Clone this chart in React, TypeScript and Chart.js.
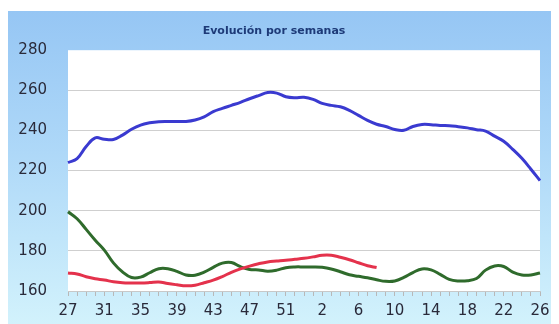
import React, { useEffect, useRef } from "react";
import { Chart, registerables } from "chart.js";

Chart.register(...registerables);

const weeks: string[] = [
  "27","28","29","30","31","32","33","34","35","36","37","38","39","40","41","42","43","44","45","46","47","48","49","50","51","52","53",
  "1","2","3","4","5","6","7","8","9","10","11","12","13","14","15","16","17","18","19","20","21","22","23","24","25","26",
];

const blueSeries: number[] = [
  224, 226, 232, 236.3, 235.6, 235.5, 237.7, 240.6, 242.7, 243.8, 244.4, 244.5, 244.5, 244.5, 245.2, 246.8, 249.4, 251, 252.5, 254,
  255.8, 257.4, 258.9, 258.6, 256.8, 256.3, 256.5, 255.5, 253.5, 252.5, 251.8, 250, 247.5, 245, 243.1, 242, 240.5, 240.1, 242, 243,
  242.9, 242.5, 242.4, 241.9, 241.3, 240.4, 239.7, 237.2, 234.6, 230.6, 226.1, 220.7, 215,
];

const greenSeries: number[] = [
  199.5, 196, 190.7, 185.3, 180.4, 174, 169.5, 166.7, 166.9, 169.1, 171.1, 171.1, 169.8, 168, 167.9, 169.4, 171.8, 173.9, 174.2, 172.1,
  170.7, 170.5, 169.9, 170.4, 171.6, 172, 172, 172, 171.8, 171, 169.6, 168.1, 167.3, 166.6, 165.6, 164.8, 165, 166.8, 169.2, 171,
  170.5, 168.3, 165.8, 165, 165.1, 166.2, 170.4, 172.5, 172.2, 169.4, 168, 168, 169,
];

const redSeries: (number | null)[] = [
  169, 168.5, 167.1, 166.1, 165.5, 164.6, 164.1, 164, 164, 164.2, 164.5, 163.7, 163.1, 162.6, 162.9, 164.1, 165.4, 167.2, 169.3, 171,
  172.4, 173.6, 174.5, 174.9, 175.3, 175.8, 176.3, 177, 177.8, 177.8, 176.8, 175.6, 174.1, 172.6, 171.7,
  null, null, null, null, null, null, null, null, null, null, null, null, null, null, null, null, null, null,
];

const yTicks: number[] = [160, 180, 200, 220, 240, 260, 280];
const titleText = "Evolución por semanas";

const plotBg = {
  id: "plotBg",
  beforeDraw(chart: any) {
    const { ctx, chartArea } = chart;
    if (!chartArea) return;
    ctx.save();
    ctx.fillStyle = "#ffffff";
    ctx.fillRect(chartArea.left, chartArea.top, chartArea.right - chartArea.left, chartArea.bottom - chartArea.top);
    ctx.restore();
  },
};

export default function App() {
  const ref = useRef<HTMLCanvasElement | null>(null);

  useEffect(() => {
    if (!ref.current) return;
    const chart = new Chart(ref.current, {
      type: "line",
      data: {
        labels: weeks,
        datasets: [
          {
            label: "A",
            data: blueSeries,
            borderColor: "#3a3ad0",
            borderWidth: 3,
            pointRadius: 0,
            tension: 0.4,
            fill: false,
          },
          {
            label: "C",
            data: redSeries,
            borderColor: "#e4324c",
            borderWidth: 3,
            pointRadius: 0,
            tension: 0.4,
            fill: false,
            spanGaps: false,
          },
          {
            label: "B",
            data: greenSeries,
            borderColor: "#2f6b2c",
            borderWidth: 3,
            pointRadius: 0,
            tension: 0.4,
            fill: false,
          },
        ],
      },
      options: {
        animation: false,
        responsive: false,
        maintainAspectRatio: false,
        layout: { padding: { left: 0, right: 19, top: 0, bottom: 0 } },
        plugins: {
          legend: { display: false },
          tooltip: { enabled: false },
          title: {
            display: true,
            text: titleText,
            color: "#1d3a78",
            font: { family: "'DejaVu Sans', sans-serif", size: 11, weight: "bold" },
            padding: { top: 14, bottom: 12 },
          },
        },
        scales: {
          x: {
            type: "category",
            offset: false,
            afterFit: (s: any) => {
              s.height = 33;
            },
            border: { display: true, color: "#c8c8c8" },
            grid: { drawOnChartArea: false, drawTicks: true, tickLength: 5, color: "#b8b8b8" },
            ticks: {
              autoSkip: false,
              maxRotation: 0,
              minRotation: 0,
              padding: 6,
              color: "#2a2a3a",
              font: { family: "'DejaVu Sans', sans-serif", size: 15 },
              callback: (_v: any, i: number) => (i % 4 === 0 ? weeks[i] : ""),
            },
          },
          y: {
            min: 160,
            max: 280,
            afterFit: (s: any) => {
              s.width = 60;
            },
            afterBuildTicks: (s: any) => {
              s.ticks = yTicks.map((v) => ({ value: v }));
            },
            border: { display: false },
            grid: {
              drawTicks: false,
              color: (c: any) => (c.tick && c.tick.value === 280 ? "rgba(0,0,0,0)" : "#cfcfcf"),
            },
            ticks: {
              padding: 21,
              color: "#2a2a3a",
              font: { family: "'DejaVu Sans', sans-serif", size: 15 },
            },
          },
        },
      },
      plugins: [plotBg],
    });
    return () => chart.destroy();
  }, []);

  return (
    <div
      style={{
        marginTop: 3,
        width: 551,
        height: 313,
        background: "linear-gradient(180deg, #96c6f4 0%, #aed8f8 45%, #d2f2fc 100%)",
      }}
    >
      <canvas ref={ref} width={551} height={313} style={{ display: "block", width: 551, height: 313 }} />
    </div>
  );
}
